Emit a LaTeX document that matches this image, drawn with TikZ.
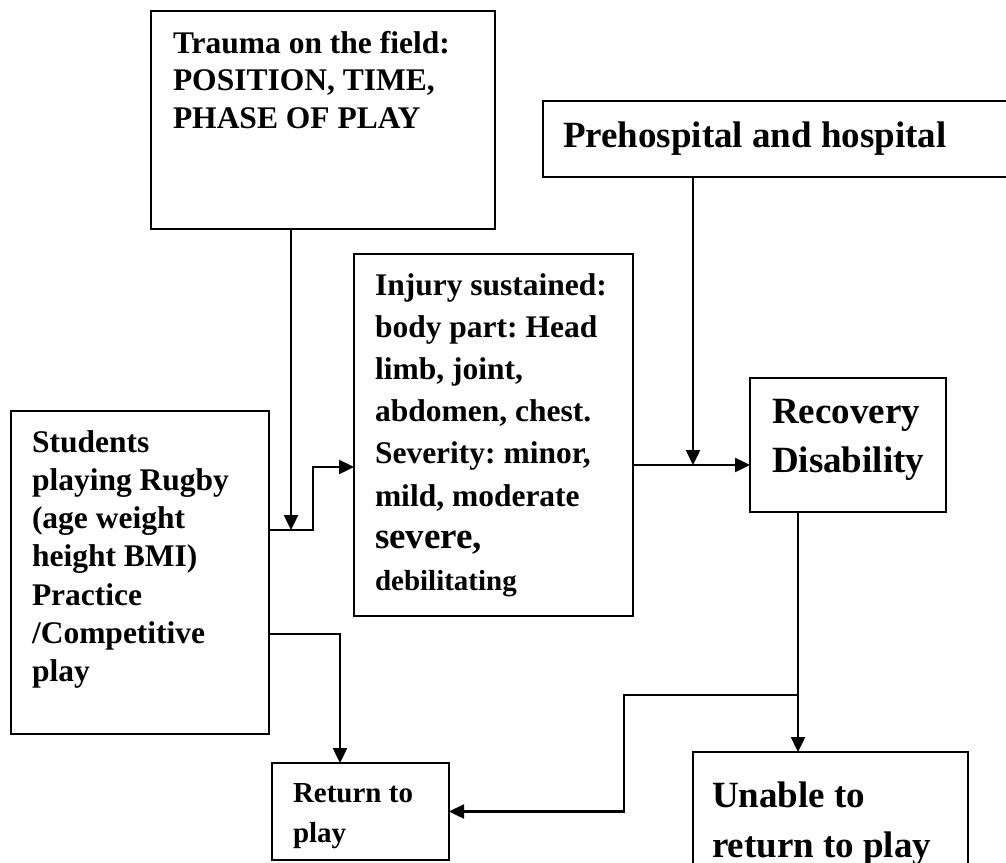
\documentclass[tikz,border=0pt]{standalone}
\usepackage{fontspec}
\setmainfont{Liberation Serif}
\frenchspacing
\usetikzlibrary{arrows.meta}

\begin{document}
\begin{tikzpicture}[x=1pt, y=-1pt,
    block/.style={rectangle, draw, line width=1.7pt, anchor=north west, align=flush left, inner ysep=0pt, outer sep=0pt},
    arrow/.style={-{Triangle[length=15pt, width=14pt]}, line width=2.4pt}]

    \useasboundingbox (0,0) rectangle (1006,862);

    \node[block, inner xsep=22pt, text width=300pt, text height=42pt, text depth=176pt,
        font=\fontsize{31.5}{37.5}\selectfont\bfseries] (trauma) at (151,11)
        {Trauma on the field:\\POSITION, TIME,\\PHASE OF PLAY};
    \node[block, inner xsep=20pt, text width=460pt, text height=46pt, text depth=30pt,
        font=\fontsize{37}{44}\selectfont\bfseries] (care) at (543,101)
        {Prehospital and hospital};
    \node[block, inner xsep=21pt, text width=237pt, text height=41pt, text depth=321pt,
        font=\fontsize{31.5}{42.2}\selectfont\bfseries] (injury) at (354,254)
        {Injury sustained:\\body part: Head\\limb, joint,\\abdomen, chest.\\Severity: minor,\\mild, moderate\\{\fontsize{37}{42.2}\selectfont severe,}\\{\fontsize{29}{42.2}\selectfont debilitating}};
    \node[block, inner xsep=22pt, text width=152pt, text height=45pt, text depth=89pt,
        font=\fontsize{37}{49}\selectfont\bfseries] (recovery) at (750,378)
        {Recovery\\Disability};
    \node[block, inner xsep=21pt, text width=216pt, text height=41pt, text depth=282pt,
        font=\fontsize{31.5}{38.3}\selectfont\bfseries] (students) at (11,411)
        {Students\\playing Rugby\\(age weight\\height BMI)\\Practice\\/Competitive\\play};
    \node[block, inner xsep=21pt, text width=135pt, text height=39pt, text depth=58pt,
        font=\fontsize{29}{40}\selectfont\bfseries] (rtp) at (272,763)
        {Return to\\play};
    \node[block, inner xsep=19pt, text width=237pt, text height=55pt, text depth=100pt,
        font=\fontsize{37}{50}\selectfont\bfseries] (nortp) at (693,752)
        {Unable to\\return to play};

    \coordinate (j1) at (291,530);
    \coordinate (j5) at (313,467);
    \coordinate (j2) at (693,465);
    \coordinate (j3) at (798,695);
    \coordinate (j6) at (624,695);
    \coordinate (j4) at (340,634);

    \draw[arrow] (trauma.south -| j1) -- (j1);
    \draw[arrow] (students.east |- j1) -| (j5) -- (injury.west |- j5);
    \draw[arrow] (care.south -| j2) -- (j2);
    \draw[arrow] (injury.east |- j2) -- (recovery.west |- j2);
    \draw[arrow] (recovery.south -| j3) -- (nortp.north -| j3);
    \draw[arrow] (j3) -- (j6) |- (rtp.east);
    \draw[arrow] (students.east |- j4) -| (rtp.north -| j4);
\end{tikzpicture}
\end{document}
